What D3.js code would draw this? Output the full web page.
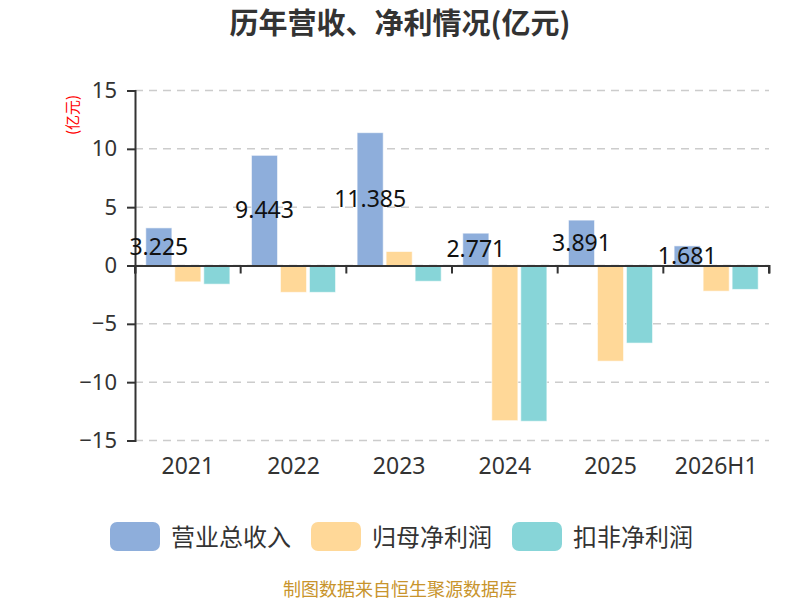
<!DOCTYPE html>
<html>
<head>
<meta charset="utf-8">
<script src="https://cdn.jsdelivr.net/npm/d3@7"></script>
<style>
  body { margin: 0; background: #fff; }
  text { font-family: "Noto Sans CJK SC", "Noto Sans", sans-serif; }
</style>
</head>
<body>
<svg id="chart" width="800" height="600"></svg>
<script>
// values (亿元)
const years = ["2021", "2022", "2023", "2024", "2025", "2026H1"]
const revenue = [3.225, 9.443, 11.385, 2.771, 3.891, 1.681]
const netProfit = [-1.4, -2.3, 1.2, -13.3, -8.2, -2.2]
const deductedProfit = [-1.6, -2.3, -1.35, -13.35, -6.65, -2.05]
const seriesNames = ["营业总收入", "归母净利润", "扣非净利润"]
const seriesColors = ["#8eaedb", "#ffd898", "#87d5d8"]
const yTicks = [-15, -10, -5, 0, 5, 10, 15]

const svg = d3.select('#chart')
const plotLeft = 135, plotRight = 769, plotTop = 90.5, plotBottom = 440.5

const x = d3.scaleBand().domain(years).range([plotLeft, plotRight])
const y = d3.scaleLinear().domain([-15, 15]).range([plotBottom, plotTop])
const inner = d3.scaleBand().domain(seriesNames)
  .range([x.bandwidth() * 0.102, x.bandwidth() * 0.898]).paddingInner(0.1)
const color = d3.scaleOrdinal().domain(seriesNames).range(seriesColors)

// title
svg.append('text').attr('x', 400).attr('y', 34).attr('text-anchor', 'middle')
  .style('font-size', '29px').style('font-weight', 'bold').attr('fill', '#333')
  .text('历年营收、净利情况(亿元)')

// y unit
svg.append('text').attr('transform', 'translate(73,115) rotate(-90)')
  .attr('text-anchor', 'middle').attr('dy', '0.35em')
  .style('font-size', '15px').attr('fill', 'red')
  .text('(亿元)')

// grid lines
svg.append('g').selectAll('line').data(yTicks).enter().append('line')
  .attr('x1', plotLeft).attr('x2', plotRight)
  .attr('y1', d => y(d)).attr('y2', d => y(d))
  .attr('stroke', '#ccc').attr('stroke-width', 1.5).attr('stroke-dasharray', '8,6')

// y axis
const yAxis = svg.append('g').attr('transform', `translate(${plotLeft},0)`)
  .call(d3.axisLeft(y).tickValues(yTicks).tickSize(8).tickPadding(10))
yAxis.select('.domain').attr('stroke', '#333').attr('stroke-width', 2)
yAxis.selectAll('.tick line').attr('stroke', '#333').attr('stroke-width', 2)
yAxis.selectAll('.tick text').style('font-size', '22px').attr('fill', '#333')
  .style('font-family', '"Noto Sans", sans-serif')

// bars
const groups = svg.append('g').selectAll('g').data(years).enter().append('g')
  .attr('transform', d => `translate(${x(d)},0)`)
groups.selectAll('rect').data((d, i) => [
    {s: seriesNames[0], v: revenue[i]},
    {s: seriesNames[1], v: netProfit[i]},
    {s: seriesNames[2], v: deductedProfit[i]}
  ]).enter().append('rect')
  .attr('x', d => inner(d.s)).attr('width', inner.bandwidth())
  .attr('y', d => y(Math.max(0, d.v)))
  .attr('height', d => Math.abs(y(d.v) - y(0)))
  .attr('fill', d => color(d.s))
  .attr('stroke', 'rgba(255,255,255,0.6)')

// x axis at zero
const xAxis = svg.append('g').attr('transform', `translate(0,${y(0)})`)
  .call(d3.axisBottom(x).tickSize(8).tickFormat(''))
xAxis.select('.domain').attr('stroke', '#333').attr('stroke-width', 2)
xAxis.selectAll('.tick line').attr('stroke', '#333').attr('stroke-width', 2)
  .attr('transform', `translate(${-x.bandwidth() / 2},0)`)
xAxis.append('line').attr('x1', plotRight).attr('x2', plotRight).attr('y1', 0).attr('y2', 8)
  .attr('stroke', '#333').attr('stroke-width', 2)

// category labels along the bottom
svg.append('g').selectAll('text').data(years).enter().append('text')
  .attr('x', d => x(d) + x.bandwidth() / 2).attr('y', 466)
  .attr('dy', '0.35em').attr('text-anchor', 'middle')
  .style('font-size', '23px').attr('fill', '#333')
  .style('font-family', '"Noto Sans", sans-serif')
  .text(d => d)

// value labels inside revenue bars
svg.append('g').selectAll('text').data(years).enter().append('text')
  .attr('x', d => x(d) + inner(seriesNames[0]) + inner.bandwidth() / 2)
  .attr('y', (d, i) => (y(revenue[i]) + y(0)) / 2)
  .attr('dy', '0.35em').attr('text-anchor', 'middle')
  .style('font-size', '23px').attr('fill', '#111')
  .style('font-family', '"Noto Sans", sans-serif')
  .text((d, i) => revenue[i])

// legend
const legendX = [110, 311, 512]
const legend = svg.append('g').selectAll('g').data(seriesNames).enter().append('g')
  .attr('transform', (d, i) => `translate(${legendX[i]},522)`)
legend.append('rect').attr('width', 50).attr('height', 29).attr('rx', 7)
  .attr('fill', d => color(d))
legend.append('text').attr('x', 61).attr('y', 15).attr('dy', '0.36em')
  .style('font-size', '24px').attr('fill', '#333').text(d => d)

// source
svg.append('text').attr('x', 400).attr('y', 590).attr('dy', '0.35em')
  .attr('text-anchor', 'middle')
  .style('font-size', '18px').attr('fill', '#c8942c')
  .text('制图数据来自恒生聚源数据库')
</script>
</body>
</html>
